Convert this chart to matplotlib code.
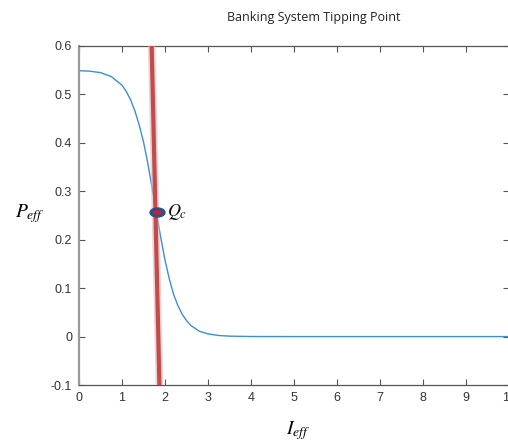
import matplotlib
matplotlib.use("Agg")
import matplotlib.pyplot as plt
from matplotlib.markers import MarkerStyle
from matplotlib.transforms import Affine2D

plt.rcParams['font.family'] = ['Liberation Sans', 'DejaVu Sans']
plt.rcParams['mathtext.fontset'] = 'stix'

# Data
curve_x = [0.0, 0.25, 0.5, 0.75, 1.0, 1.1, 1.2, 1.3, 1.4, 1.5, 1.6, 1.7, 1.8, 1.9,
           2.0, 2.1, 2.2, 2.3, 2.4, 2.5, 2.6, 2.8, 3.0, 3.25, 3.5, 4.0, 5.0, 6.0,
           7.0, 8.0, 9.0, 10.0]
curve_y = [0.549, 0.548, 0.545, 0.537, 0.519, 0.506, 0.489, 0.466, 0.437, 0.402,
           0.358, 0.307, 0.255, 0.205, 0.158, 0.119, 0.087, 0.064, 0.046, 0.033,
           0.023, 0.011, 0.0055, 0.0022, 0.0009, 0.0001, 0.0, 0.0, 0.0, 0.0, 0.0, 0.0]
red_x = [1.69, 1.87]
red_y = [0.6, -0.1]
qc_x = [1.81]
qc_y = [0.257]
xticks = [0, 1, 2, 3, 4, 5, 6, 7, 8, 9, 10]
yticks = [-0.1, 0, 0.1, 0.2, 0.3, 0.4, 0.5, 0.6]
ytick_labels = ['-0.1', '0', '0.1', '0.2', '0.3', '0.4', '0.5', '0.6']

fig = plt.figure(figsize=(5.08, 4.41), dpi=100)
ax = fig.add_axes([79/508, 56/441, 430/508, 339/441])

ax.plot(curve_x, curve_y, color='#3b8fd2', lw=1.0, zorder=2)
ax.plot(red_x, red_y, color='#e8b4b4', lw=5.5, alpha=0.6, zorder=3, solid_capstyle='butt')
ax.plot(red_x, red_y, color='#c24b4b', lw=3.0, zorder=4, solid_capstyle='butt')

outer = MarkerStyle('o', transform=Affine2D().scale(1.65, 1.0))
inner = MarkerStyle('o', transform=Affine2D().scale(2.2, 1.0))
ax.plot(qc_x, qc_y, linestyle='none', marker=outer, markersize=6.5,
        markerfacecolor='#2f4f82', markeredgecolor='#2f4f82', zorder=5)
ax.plot(qc_x, qc_y, linestyle='none', marker=inner, markersize=3,
        markerfacecolor='#e8141e', markeredgecolor='none', zorder=6)
ax.annotate(r'$Q_c$', xy=(qc_x[0], qc_y[0]), xytext=(7, 0), textcoords='offset points',
            fontsize=13, va='center', ha='left', color='#111111', zorder=7)

ax.set_xlim(0, 10)
ax.set_ylim(-0.1, 0.6)
ax.set_xticks(xticks)
ax.set_xticklabels([str(t) for t in xticks])
ax.set_yticks(yticks)
ax.set_yticklabels(ytick_labels)
ax.tick_params(direction='in', length=4, width=0.8, colors='#555555',
               labelcolor='#333333', labelsize=9, top=True, right=True, pad=5)

for s in ['top', 'bottom', 'right']:
    ax.spines[s].set_color('#555555')
    ax.spines[s].set_linewidth(0.9)
ax.spines['left'].set_color('#9a9a9a')
ax.spines['left'].set_linewidth(1.6)

fig.text(314/508, 1 - 18/441, 'Banking System Tipping Point', fontsize=9,
         family=['Open Sans', 'DejaVu Sans'], ha='center', va='center', color='#222222')
fig.text(30/508, 1 - 214/441, r'$P_{eff}$', fontsize=14, ha='center', va='center')
fig.text(298/508, 1 - 431/441, r'$I_{eff}$', fontsize=14, ha='center', va='center')

fig.savefig('out.png', dpi=100)
